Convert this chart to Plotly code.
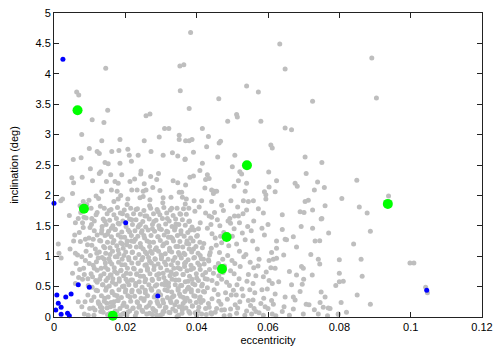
import plotly.graph_objects as go

# ---------------- data (eccentricity, inclination in deg) ----------------
gray_upper = [
    (0.0145, 4.09), (0.0353, 4.13), (0.0364, 4.15), (0.00636, 3.70), (0.00693, 3.65),
    (0.0354, 3.72), (0.01506, 3.40), (0.0269, 3.34), (0.0383, 4.68), (0.0379, 3.43),
    (0.0633, 4.49), (0.0648, 4.08), (0.0540, 3.80), (0.0573, 3.70), (0.0462, 3.59),
    (0.0725, 3.55), (0.0512, 3.33), (0.0891, 4.26), (0.0904, 3.60),
    (0.0107, 3.245), (0.0140, 3.20), (0.0258, 3.31), (0.00777, 3.00), (0.0310, 3.10),
    (0.0322, 3.10), (0.0134, 2.90), (0.0185, 2.92), (0.0253, 2.90), (0.0295, 2.96),
    (0.0351, 2.99), (0.0351, 2.92), (0.0369, 2.90), (0.0099, 2.77), (0.0121, 2.72),
    (0.0127, 2.69), (0.0162, 2.72), (0.0182, 2.74), (0.0207, 2.76), (0.0211, 2.66),
    (0.0236, 2.66), (0.0272, 2.72), (0.0306, 2.66), (0.0332, 2.70), (0.0347, 2.65),
    (0.0368, 2.60), (0.0054, 2.59), (0.0076, 2.62), (0.0143, 2.54), (0.0152, 2.52),
    (0.0185, 2.53), (0.0217, 2.56), (0.0102, 2.44), (0.0131, 2.39), (0.0127, 2.36),
    (0.0244, 2.40), (0.0293, 2.36), (0.0050, 2.29), (0.0055, 2.21), (0.0079, 2.30),
    (0.0159, 2.34), (0.0190, 2.34), (0.0243, 2.35), (0.0271, 2.31), (0.0108, 2.24),
    (0.0147, 2.23), (0.0171, 2.23), (0.0180, 2.20), (0.0213, 2.23), (0.0226, 2.27),
    (0.0253, 2.19), (0.0288, 2.26), (0.0334, 2.24), (0.0347, 2.21), (0.0369, 2.17),
    (0.0487, 3.22), (0.0514, 3.29), (0.0580, 3.22), (0.0416, 3.10), (0.0648, 3.11),
    (0.0666, 3.08), (0.0379, 2.90), (0.0387, 2.92), (0.0433, 2.97), (0.0463, 2.86),
    (0.0467, 2.89), (0.0428, 2.80), (0.0608, 2.83), (0.0612, 2.78), (0.0391, 2.71),
    (0.0507, 2.66), (0.0459, 2.63), (0.0367, 2.59), (0.0416, 2.53), (0.0500, 2.47),
    (0.0704, 2.63), (0.0751, 2.54), (0.0409, 2.41), (0.0521, 2.39), (0.0526, 2.35),
    (0.0602, 2.385), (0.0707, 2.36), (0.0381, 2.30), (0.0391, 2.32), (0.0430, 2.34),
    (0.0435, 2.28), (0.0425, 2.26), (0.0517, 2.24), (0.0540, 2.20), (0.0624, 2.24),
    (0.0676, 2.20), (0.0682, 2.15), (0.0739, 2.22), (0.0758, 2.13), (0.0849, 2.25),
]

gray_middle = [
    (0.0024, 1.94), (0.0019, 1.91), (0.0052, 2.03), (0.0082, 1.90), (0.0134, 2.07),
    (0.0125, 1.95), (0.0161, 2.09), (0.0177, 2.07), (0.0187, 2.00), (0.0180, 1.94),
    (0.0218, 2.09), (0.0233, 2.09), (0.0250, 2.07), (0.0258, 2.09), (0.0277, 2.13),
    (0.0297, 2.08), (0.0241, 1.96), (0.0250, 1.98), (0.0207, 1.94), (0.0269, 1.93),
    (0.0306, 1.96), (0.0328, 1.97), (0.0351, 2.05), (0.0358, 2.05), (0.0360, 1.97),
    (0.0371, 1.94), (0.0043, 1.67), (0.0084, 1.64), (0.0106, 1.62),
    (0.0423, 2.12), (0.0442, 2.09), (0.0451, 2.07), (0.0447, 2.03), (0.0456, 2.07),
    (0.0505, 2.15), (0.0536, 2.07), (0.0590, 2.06), (0.0594, 2.01), (0.0603, 2.14),
    (0.0620, 2.06), (0.0730, 2.09), (0.0393, 1.91), (0.0414, 1.91), (0.0442, 1.90),
    (0.0496, 1.91), (0.0531, 1.91), (0.0545, 1.90), (0.0559, 1.91), (0.0594, 1.94),
    (0.0704, 1.90), (0.0713, 1.92), (0.0760, 1.83), (0.0378, 1.79), (0.0407, 1.81),
    (0.0470, 1.84), (0.0515, 1.81), (0.0540, 1.76), (0.0573, 1.78), (0.0587, 1.71),
    (0.0690, 1.73), (0.0701, 1.72), (0.0725, 1.76), (0.0751, 1.62), (0.0435, 1.66),
    (0.0442, 1.64), (0.0506, 1.66), (0.0517, 1.66), (0.0493, 1.62),
    (0.0807, 1.95), (0.0938, 1.99), (0.0856, 1.81), (0.0878, 1.71), (0.0887, 1.41),
    (0.0060, 1.55), (0.0075, 1.72), (0.0092, 1.85), (0.0105, 1.52), (0.0118, 1.68),
    (0.0130, 1.82), (0.0142, 1.58), (0.0155, 1.75), (0.0168, 1.90), (0.0180, 1.54),
    (0.0192, 1.70), (0.0205, 1.85), (0.0218, 1.60), (0.0230, 1.77), (0.0242, 1.52),
    (0.0255, 1.66), (0.0268, 1.83), (0.0280, 1.57), (0.0292, 1.73), (0.0305, 1.88),
    (0.0318, 1.62), (0.0330, 1.79), (0.0342, 1.53), (0.0355, 1.69), (0.0368, 1.86),
    (0.0380, 1.58), (0.0395, 1.74), (0.0410, 1.55), (0.0425, 1.71), (0.0440, 1.52),
    (0.0458, 1.60), (0.0475, 1.75), (0.0495, 1.54), (0.0530, 1.70), (0.0560, 1.58),
    (0.0600, 1.52), (0.0640, 1.68),
    (0.0749, 1.61), (0.0693, 1.49), (0.0725, 1.46),
    (0.0012, 1.20), (0.0020, 0.97), (0.0014, 1.05),
]

gray_band_10_15 = [
    (0.0045, 1.12), (0.0058, 1.35), (0.0066, 1.02), (0.0074, 1.24), (0.0082, 1.47),
    (0.0090, 1.08), (0.0098, 1.30), (0.0106, 1.18), (0.0113, 1.42), (0.0120, 1.05),
    (0.0128, 1.26), (0.0135, 1.49), (0.0142, 1.14), (0.0150, 1.36), (0.0157, 1.03),
    (0.0165, 1.22), (0.0172, 1.44), (0.0180, 1.10), (0.0188, 1.31), (0.0196, 1.01),
    (0.0204, 1.19), (0.0212, 1.40), (0.0220, 1.07), (0.0228, 1.28), (0.0236, 1.48),
    (0.0244, 1.15), (0.0252, 1.34), (0.0260, 1.04), (0.0268, 1.23), (0.0276, 1.45),
    (0.0284, 1.11), (0.0292, 1.32), (0.0300, 1.02), (0.0308, 1.20), (0.0316, 1.41),
    (0.0324, 1.09), (0.0332, 1.29), (0.0340, 1.47), (0.0348, 1.16), (0.0356, 1.37),
    (0.0364, 1.05), (0.0373, 1.25), (0.0382, 1.43), (0.0391, 1.12), (0.0400, 1.33),
    (0.0410, 1.01), (0.0420, 1.21), (0.0430, 1.46), (0.0441, 1.13), (0.0452, 1.30),
    (0.0464, 1.06), (0.0476, 1.39), (0.0490, 1.17), (0.0505, 1.45), (0.0520, 1.08),
    (0.0536, 1.27), (0.0553, 1.42), (0.0570, 1.12), (0.0590, 1.35), (0.0610, 1.06),
    (0.0640, 1.44), (0.0680, 1.15), (0.0720, 1.03), (0.0770, 1.38), (0.0840, 1.20),
    (0.0110, 1.28), (0.0133, 1.38), (0.0161, 1.46), (0.0192, 1.20), (0.0217, 1.25),
    (0.0247, 1.42), (0.0271, 1.08), (0.0296, 1.45), (0.0321, 1.31), (0.0352, 1.02),
    (0.0378, 1.20), (0.0405, 1.45), (0.0436, 1.02), (0.0470, 1.22), (0.0500, 1.33),
    (0.0648, 1.28), (0.0652, 1.27), (0.0671, 1.32), (0.0732, 1.25), (0.0745, 1.255),
    (0.0624, 1.25), (0.0624, 1.13), (0.0644, 1.02),
]

gray_band_05_10 = [
    (0.0060, 0.55), (0.0072, 0.78), (0.0080, 0.62), (0.0088, 0.93), (0.0096, 0.52),
    (0.0104, 0.71), (0.0110, 0.85), (0.0117, 0.60), (0.0124, 0.97), (0.0131, 0.68),
    (0.0137, 0.53), (0.0144, 0.82), (0.0151, 0.64), (0.0157, 0.91), (0.0164, 0.57),
    (0.0170, 0.75), (0.0177, 0.99), (0.0183, 0.63), (0.0190, 0.86), (0.0196, 0.51),
    (0.0203, 0.72), (0.0210, 0.94), (0.0216, 0.61), (0.0223, 0.80), (0.0229, 0.55),
    (0.0236, 0.89), (0.0242, 0.67), (0.0249, 0.98), (0.0255, 0.58), (0.0262, 0.77),
    (0.0268, 0.92), (0.0275, 0.62), (0.0281, 0.84), (0.0288, 0.53), (0.0294, 0.71),
    (0.0301, 0.96), (0.0308, 0.65), (0.0314, 0.86), (0.0321, 0.56), (0.0328, 0.74),
    (0.0334, 0.93), (0.0341, 0.61), (0.0348, 0.81), (0.0355, 0.52), (0.0362, 0.70),
    (0.0369, 0.90), (0.0376, 0.59), (0.0384, 0.78), (0.0392, 0.97), (0.0400, 0.64),
    (0.0408, 0.85), (0.0416, 0.54), (0.0425, 0.73), (0.0434, 0.92), (0.0443, 0.60),
    (0.0452, 0.82), (0.0462, 0.68), (0.0473, 0.95), (0.0484, 0.57), (0.0495, 0.76),
    (0.0507, 0.88), (0.0519, 0.63), (0.0532, 0.99), (0.0545, 0.70), (0.0558, 0.55),
    (0.0572, 0.84), (0.0587, 0.66), (0.0603, 0.93), (0.0630, 0.58), (0.0660, 0.75),
    (0.0700, 0.62), (0.0745, 0.87), (0.0790, 0.52),
    (0.0085, 0.70), (0.0099, 0.88), (0.0121, 0.77), (0.0141, 0.95), (0.0160, 0.69),
    (0.0187, 0.76), (0.0206, 0.58), (0.0232, 0.71), (0.0259, 0.86), (0.0284, 0.95),
    (0.0311, 0.53), (0.0338, 0.70), (0.0366, 0.83), (0.0389, 0.55), (0.0419, 0.95),
    (0.0447, 0.72), (0.0478, 0.84), (0.0513, 0.53), (0.0550, 0.90), (0.0595, 0.74),
    (0.0615, 0.95), (0.0624, 0.965), (0.0741, 0.95), (0.0694, 0.83), (0.0699, 0.80),
    (0.0608, 0.81), (0.0680, 0.69), (0.0724, 0.69), (0.0612, 0.55), (0.0666, 0.53),
    (0.0696, 0.54), (0.0620, 0.80),
    (0.0800, 0.94), (0.0861, 0.95), (0.0998, 0.89), (0.1009, 0.89), (0.0800, 0.72),
    (0.0864, 0.67), (0.0800, 0.58), (0.0811, 0.59),
]

gray_band_00_05 = [
    (0.0085, 0.05), (0.0100, 0.14), (0.0112, 0.03), (0.0125, 0.22), (0.0131, 0.09),
    (0.0142, 0.31), (0.0150, 0.04), (0.0158, 0.17), (0.0163, 0.40), (0.0172, 0.10),
    (0.0180, 0.27), (0.0186, 0.03), (0.0193, 0.19), (0.0201, 0.45), (0.0207, 0.08),
    (0.0213, 0.33), (0.0221, 0.14), (0.0228, 0.02), (0.0234, 0.24), (0.0240, 0.41),
    (0.0247, 0.11), (0.0253, 0.30), (0.0260, 0.05), (0.0266, 0.19), (0.0272, 0.47),
    (0.0279, 0.12), (0.0285, 0.36), (0.0291, 0.22), (0.0298, 0.03), (0.0305, 0.28),
    (0.0312, 0.15), (0.0318, 0.43), (0.0325, 0.07), (0.0332, 0.33), (0.0339, 0.20),
    (0.0345, 0.01), (0.0352, 0.38), (0.0360, 0.12), (0.0367, 0.26), (0.0374, 0.46),
    (0.0381, 0.06), (0.0388, 0.18), (0.0396, 0.34), (0.0404, 0.10), (0.0412, 0.24),
    (0.0419, 0.42), (0.0427, 0.04), (0.0435, 0.16), (0.0443, 0.30), (0.0452, 0.08),
    (0.0460, 0.37), (0.0468, 0.21), (0.0477, 0.02), (0.0486, 0.29), (0.0495, 0.13),
    (0.0503, 0.44), (0.0512, 0.06), (0.0521, 0.25), (0.0530, 0.35), (0.0540, 0.10),
    (0.0551, 0.19), (0.0563, 0.40), (0.0575, 0.07), (0.0588, 0.31), (0.0600, 0.14),
    (0.0095, 0.36), (0.0118, 0.44), (0.0135, 0.15), (0.0147, 0.48), (0.0168, 0.25),
    (0.0177, 0.35), (0.0197, 0.06), (0.0218, 0.41), (0.0238, 0.16), (0.0256, 0.44),
    (0.0276, 0.04), (0.0294, 0.40), (0.0308, 0.09), (0.0328, 0.24), (0.0348, 0.47),
    (0.0363, 0.32), (0.0385, 0.41), (0.0408, 0.29), (0.0430, 0.48), (0.0456, 0.14),
    (0.0481, 0.40), (0.0508, 0.20), (0.0535, 0.03), (0.0558, 0.28), (0.0583, 0.45),
    (0.0620, 0.38), (0.0640, 0.09), (0.0690, 0.42), (0.0730, 0.12), (0.0760, 0.33),
    (0.0820, 0.08), (0.0850, 0.36),
    (0.0749, 0.41), (0.0648, 0.33), (0.0671, 0.33), (0.0676, 0.28), (0.0615, 0.21),
    (0.0645, 0.17), (0.0715, 0.20), (0.0746, 0.24), (0.0769, 0.15), (0.0592, 0.17),
    (0.0699, 0.05), (0.0741, 0.05), (0.1042, 0.49), (0.1047, 0.40), (0.0805, 0.24),
    (0.0887, 0.21), (0.0797, 0.05), (0.0774, 0.14), (0.0755, 0.16), (0.0707, 0.21),
    (0.0767, 0.02), (0.0797, 0.045), (0.0660, 0.03), (0.0671, 0.13), (0.0612, 0.05),
    (0.0622, 0.02), (0.0561, 0.14), (0.0554, 0.05), (0.0493, 0.03), (0.0470, 0.115),
    (0.0442, 0.05), (0.0400, 0.03), (0.0358, 0.17), (0.0349, 0.03), (0.0306, 0.09),
    (0.0288, 0.03), (0.0204, 0.03), (0.0148, 0.225), (0.0115, 0.115), (0.0096, 0.03),
    (0.0078, 0.17), (0.0068, 0.25),
]

# dense core of the cloud (estimated, e ~ 0.013-0.042, i < 1.8 deg)
gray_core = [
    (0.0138, 0.08), (0.0157, 0.06), (0.0176, 0.09), (0.0193, 0.05), (0.0212, 0.10), (0.0231, 0.07),
    (0.0249, 0.09), (0.0268, 0.06), (0.0285, 0.10), (0.0304, 0.05), (0.0322, 0.08), (0.0341, 0.10),
    (0.0359, 0.06), (0.0378, 0.09), (0.0396, 0.07), (0.0414, 0.05),
    (0.0130, 0.17), (0.0149, 0.15), (0.0167, 0.18), (0.0185, 0.14), (0.0204, 0.17), (0.0222, 0.15),
    (0.0240, 0.18), (0.0259, 0.16), (0.0277, 0.14), (0.0296, 0.18), (0.0314, 0.16), (0.0333, 0.13),
    (0.0351, 0.17), (0.0370, 0.15), (0.0388, 0.18), (0.0406, 0.16), (0.0425, 0.14),
    (0.0141, 0.26), (0.0160, 0.24), (0.0178, 0.27), (0.0196, 0.23), (0.0215, 0.26), (0.0233, 0.25),
    (0.0252, 0.27), (0.0270, 0.24), (0.0289, 0.26), (0.0307, 0.23), (0.0326, 0.27), (0.0344, 0.25),
    (0.0362, 0.22), (0.0381, 0.26), (0.0399, 0.24), (0.0418, 0.27),
    (0.0133, 0.35), (0.0152, 0.33), (0.0170, 0.36), (0.0189, 0.32), (0.0207, 0.35), (0.0226, 0.34),
    (0.0244, 0.31), (0.0262, 0.35), (0.0281, 0.33), (0.0299, 0.36), (0.0318, 0.32), (0.0336, 0.35),
    (0.0355, 0.34), (0.0373, 0.31), (0.0392, 0.35), (0.0410, 0.33),
    (0.0145, 0.44), (0.0163, 0.42), (0.0182, 0.45), (0.0200, 0.41), (0.0219, 0.44), (0.0237, 0.43),
    (0.0256, 0.40), (0.0274, 0.44), (0.0293, 0.42), (0.0311, 0.45), (0.0330, 0.41), (0.0348, 0.44),
    (0.0367, 0.42), (0.0385, 0.45), (0.0404, 0.43), (0.0422, 0.41),
    (0.0136, 0.53), (0.0155, 0.51), (0.0173, 0.54), (0.0192, 0.50), (0.0210, 0.53), (0.0229, 0.52),
    (0.0247, 0.49), (0.0266, 0.53), (0.0284, 0.51), (0.0303, 0.54), (0.0321, 0.50), (0.0340, 0.53),
    (0.0358, 0.52), (0.0377, 0.49), (0.0395, 0.53), (0.0414, 0.51),
    (0.0128, 0.62), (0.0146, 0.60), (0.0165, 0.63), (0.0183, 0.59), (0.0202, 0.62), (0.0220, 0.61),
    (0.0239, 0.58), (0.0257, 0.62), (0.0276, 0.60), (0.0294, 0.63), (0.0313, 0.59), (0.0331, 0.62),
    (0.0350, 0.61), (0.0368, 0.58), (0.0387, 0.62), (0.0405, 0.60), (0.0424, 0.63),
    (0.0140, 0.71), (0.0158, 0.69), (0.0177, 0.72), (0.0195, 0.68), (0.0214, 0.71), (0.0232, 0.70),
    (0.0251, 0.67), (0.0269, 0.71), (0.0288, 0.69), (0.0306, 0.72), (0.0325, 0.68), (0.0343, 0.71),
    (0.0362, 0.70), (0.0380, 0.67), (0.0399, 0.71), (0.0417, 0.69),
    (0.0132, 0.80), (0.0151, 0.78), (0.0169, 0.81), (0.0188, 0.77), (0.0206, 0.80), (0.0225, 0.79),
    (0.0243, 0.76), (0.0262, 0.80), (0.0280, 0.78), (0.0299, 0.81), (0.0317, 0.77), (0.0336, 0.80),
    (0.0354, 0.79), (0.0373, 0.76), (0.0391, 0.80), (0.0410, 0.78),
    (0.0144, 0.89), (0.0162, 0.87), (0.0181, 0.90), (0.0199, 0.86), (0.0218, 0.89), (0.0236, 0.88),
    (0.0255, 0.85), (0.0273, 0.89), (0.0292, 0.87), (0.0310, 0.90), (0.0329, 0.86), (0.0347, 0.89),
    (0.0366, 0.88), (0.0384, 0.85), (0.0403, 0.89), (0.0421, 0.87),
    (0.0135, 0.98), (0.0154, 0.96), (0.0172, 0.99), (0.0191, 0.95), (0.0209, 0.98), (0.0228, 0.97),
    (0.0246, 0.94), (0.0265, 0.98), (0.0283, 0.96), (0.0302, 0.99), (0.0320, 0.95), (0.0339, 0.98),
    (0.0357, 0.97), (0.0376, 0.94), (0.0394, 0.98), (0.0413, 0.96),
    (0.0127, 1.07), (0.0145, 1.05), (0.0164, 1.08), (0.0182, 1.04), (0.0201, 1.07), (0.0219, 1.06),
    (0.0238, 1.03), (0.0256, 1.07), (0.0275, 1.05), (0.0293, 1.08), (0.0312, 1.04), (0.0330, 1.07),
    (0.0349, 1.06), (0.0367, 1.03), (0.0386, 1.07), (0.0404, 1.05),
    (0.0139, 1.16), (0.0157, 1.14), (0.0176, 1.17), (0.0194, 1.13), (0.0213, 1.16), (0.0231, 1.15),
    (0.0250, 1.12), (0.0268, 1.16), (0.0287, 1.14), (0.0305, 1.17), (0.0324, 1.13), (0.0342, 1.16),
    (0.0361, 1.15), (0.0379, 1.12), (0.0398, 1.16), (0.0416, 1.14),
    (0.0131, 1.25), (0.0150, 1.23), (0.0168, 1.26), (0.0187, 1.22), (0.0205, 1.25), (0.0224, 1.24),
    (0.0242, 1.21), (0.0261, 1.25), (0.0279, 1.23), (0.0298, 1.26), (0.0316, 1.22), (0.0335, 1.25),
    (0.0353, 1.24), (0.0372, 1.21), (0.0390, 1.25), (0.0409, 1.23),
    (0.0143, 1.34), (0.0161, 1.32), (0.0180, 1.35), (0.0198, 1.31), (0.0217, 1.34), (0.0235, 1.33),
    (0.0254, 1.30), (0.0272, 1.34), (0.0291, 1.32), (0.0309, 1.35), (0.0328, 1.31), (0.0346, 1.34),
    (0.0365, 1.33), (0.0383, 1.30), (0.0402, 1.34),
    (0.0134, 1.43), (0.0153, 1.41), (0.0171, 1.44), (0.0190, 1.40), (0.0208, 1.43), (0.0227, 1.42),
    (0.0245, 1.39), (0.0264, 1.43), (0.0282, 1.41), (0.0301, 1.44), (0.0319, 1.40), (0.0338, 1.43),
    (0.0356, 1.42), (0.0375, 1.39), (0.0393, 1.43),
    (0.0146, 1.52), (0.0165, 1.50), (0.0183, 1.53), (0.0202, 1.49), (0.0220, 1.52), (0.0239, 1.51),
    (0.0257, 1.48), (0.0276, 1.52), (0.0294, 1.50), (0.0313, 1.53), (0.0331, 1.49), (0.0350, 1.52),
    (0.0368, 1.51), (0.0387, 1.48),
    (0.0138, 1.61), (0.0156, 1.59), (0.0175, 1.62), (0.0193, 1.58), (0.0212, 1.61), (0.0230, 1.60),
    (0.0249, 1.57), (0.0267, 1.61), (0.0286, 1.59), (0.0304, 1.62), (0.0323, 1.58), (0.0341, 1.61),
    (0.0360, 1.60), (0.0378, 1.57),
    (0.0149, 1.70), (0.0168, 1.68), (0.0186, 1.71), (0.0205, 1.67), (0.0223, 1.70), (0.0242, 1.69),
    (0.0260, 1.66), (0.0279, 1.70), (0.0297, 1.68), (0.0316, 1.71), (0.0334, 1.67), (0.0353, 1.70),
    (0.0371, 1.69),
    (0.0141, 1.79), (0.0160, 1.77), (0.0178, 1.80), (0.0197, 1.76), (0.0215, 1.79), (0.0234, 1.78),
    (0.0252, 1.75), (0.0271, 1.79), (0.0289, 1.77), (0.0308, 1.80), (0.0326, 1.76), (0.0345, 1.79),
    (0.0363, 1.78),
]

gray_outer_right = [
    (0.0440, 0.07), (0.0462, 0.26), (0.0478, 0.12), (0.0449, 0.45), (0.0497, 0.36), (0.0515, 0.15),
    (0.0470, 0.62), (0.0436, 0.78), (0.0492, 0.52), (0.0527, 0.46), (0.0545, 0.27), (0.0566, 0.09),
    (0.0580, 0.22), (0.0541, 0.59), (0.0505, 0.71), (0.0461, 0.88), (0.0438, 1.06), (0.0487, 1.01),
    (0.0522, 0.83), (0.0566, 0.68), (0.0598, 0.46), (0.0610, 0.27), (0.0455, 1.18), (0.0481, 1.29),
    (0.0443, 1.37), (0.0465, 1.50), (0.0512, 1.20), (0.0538, 1.03), (0.0575, 0.95), (0.0603, 0.60),
    (0.0528, 1.38), (0.0488, 1.58), (0.0450, 1.72), (0.0520, 1.55), (0.0557, 1.25), (0.0583, 1.46),
    (0.0433, 0.22), (0.0457, 0.55), (0.0511, 0.36), (0.0549, 0.45), (0.0587, 0.03), (0.0430, 0.62),
    (0.0474, 0.73), (0.0499, 0.93), (0.0560, 0.81), (0.0433, 0.94), (0.0467, 1.33), (0.0543, 1.49),
]

gray_outer_left = [
    (0.0112, 0.33), (0.0121, 0.57), (0.0095, 0.63), (0.0107, 0.49), (0.0083, 0.80), (0.0119, 0.91),
    (0.0102, 1.01), (0.0078, 0.99), (0.0116, 1.12), (0.0094, 1.19), (0.0071, 1.39), (0.0088, 1.28),
    (0.0121, 1.35), (0.0101, 1.47), (0.0113, 1.58), (0.0090, 1.63), (0.0121, 1.72), (0.0104, 1.79),
    (0.0080, 1.55), (0.0062, 0.88), (0.0055, 1.25), (0.0068, 1.62), (0.0122, 0.43), (0.0108, 0.66),
    (0.0124, 0.25), (0.0105, 0.27), (0.0113, 0.80), (0.0069, 0.65), (0.0052, 0.72), (0.0060, 1.05),
    (0.0118, 1.99), (0.0098, 1.92), (0.0073, 1.83), (0.0087, 0.25), (0.0110, 0.15), (0.0129, 0.20),
]

blue_ecc = [0.0025, 0.0000, 0.0201, 0.0068, 0.0099, 0.0008, 0.0048, 0.0033, 0.0012,
            0.0020, 0.0005, 0.0020, 0.0038, 0.0043, 0.0291, 0.1045]
blue_inc = [4.24, 1.87, 1.55, 0.53, 0.49, 0.36, 0.38, 0.33, 0.225,
            0.16, 0.115, 0.044, 0.06, 0.02, 0.345, 0.44]

green_ecc = [0.0066, 0.0084, 0.0541, 0.0484, 0.0471, 0.0936, 0.0165]
green_inc = [3.40, 1.78, 2.495, 1.316, 0.79, 1.86, 0.02]

x_ticks = [0, 0.02, 0.04, 0.06, 0.08, 0.1, 0.12]
x_tick_labels = ["0", "0.02", "0.04", "0.06", "0.08", "0.1", "0.12"]
y_ticks = [0, 0.5, 1, 1.5, 2, 2.5, 3, 3.5, 4, 4.5, 5]
y_tick_labels = ["0", "0.5", "1", "1.5", "2", "2.5", "3", "3.5", "4", "4.5", "5"]

# ---------------- figure ----------------
gray_all = (gray_upper + gray_middle + gray_band_10_15 + gray_band_05_10 + gray_band_00_05
            + gray_core + gray_outer_right + gray_outer_left)
gray_ecc = [p[0] for p in gray_all]
gray_inc = [p[1] for p in gray_all]

font_family = "Liberation Sans, Arial, sans-serif"

fig = go.Figure()
fig.add_trace(go.Scatter(x=gray_ecc, y=gray_inc, mode="markers",
                         marker=dict(size=5, color="#bebebe", line=dict(width=0)),
                         cliponaxis=False, showlegend=False, hoverinfo="skip"))
fig.add_trace(go.Scatter(x=blue_ecc, y=blue_inc, mode="markers",
                         marker=dict(size=5, color="#0000ff", line=dict(width=0)),
                         cliponaxis=False, showlegend=False))
fig.add_trace(go.Scatter(x=green_ecc, y=green_inc, mode="markers",
                         marker=dict(size=10, color="#00ff00", line=dict(width=0)),
                         cliponaxis=False, showlegend=False))

axis_common = dict(showline=True, linecolor="#222", linewidth=1, mirror="ticks",
                   ticks="inside", ticklen=5, tickcolor="#222", tickwidth=1,
                   showgrid=False, zeroline=False,
                   tickfont=dict(family=font_family, size=11, color="#000"))

fig.update_xaxes(range=[0, 0.12], tickvals=x_ticks, ticktext=x_tick_labels,
                 title=dict(text="eccentricity", standoff=4,
                            font=dict(family=font_family, size=11, color="#000")),
                 **axis_common)
fig.update_yaxes(range=[0, 5], tickvals=y_ticks, ticktext=y_tick_labels,
                 title=dict(text="inclination (deg)", standoff=14,
                            font=dict(family=font_family, size=11, color="#000")),
                 **axis_common)

fig.update_layout(width=500, height=352, margin=dict(l=54, r=18, t=13, b=35, autoexpand=False),
                  paper_bgcolor="white", plot_bgcolor="white")

fig.write_html("out.html", include_plotlyjs=True)
